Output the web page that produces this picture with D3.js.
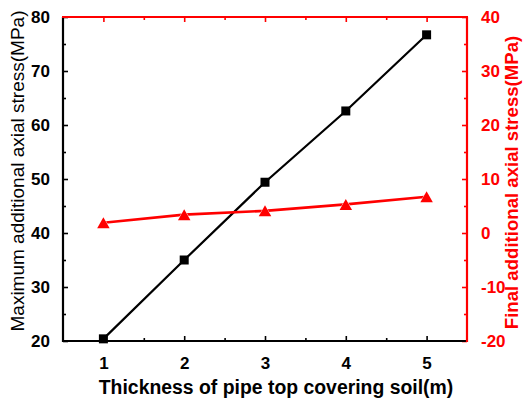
<!DOCTYPE html>
<html>
<head>
<meta charset="utf-8">
<script src="https://cdn.jsdelivr.net/npm/d3@7"></script>
<style>
  html, body { margin: 0; padding: 0; background: #fff; }
  svg { display: block; font-family: Arial, "Liberation Sans", sans-serif; }
</style>
</head>
<body>
<svg id="chart" width="523" height="402"></svg>
<script>
// Cover-soil thickness (m) and the two stress series
const thickness = [1, 2, 3, 4, 5];
const maxStress = [20.4, 35.0, 49.4, 62.6, 76.7];   // left axis, MPa
const finalStress = [1.9, 3.4, 4.1, 5.3, 6.7];       // right axis, MPa

const xTicks = [1, 2, 3, 4, 5];
const leftTicks = [20, 30, 40, 50, 60, 70, 80];
const rightTicks = [-20, -10, 0, 10, 20, 30, 40];

const W = 523, H = 402;
const m = { left: 63, right: 56, top: 17, bottom: 61 };
const RED = "#ff0000";

const svg = d3.select("#chart");

const x = d3.scaleLinear().domain([0.5, 5.5]).range([m.left, W - m.right]);
const yL = d3.scaleLinear().domain([20, 80]).range([H - m.bottom, m.top]);
const yR = d3.scaleLinear().domain([-20, 40]).range([H - m.bottom, m.top]);

const x0 = m.left, x1 = W - m.right, y0 = m.top, y1 = H - m.bottom;
const plain = d => String(d);   // ASCII hyphen for negatives

function styleAxis(g, color, size) {
  g.select(".domain").remove();
  g.selectAll(".tick line").attr("stroke", color).attr("stroke-width", 1.6);
  g.selectAll(".tick text")
    .attr("fill", color)
    .attr("font-size", size)
    .attr("font-weight", "bold");
}

// minor tick positions (halfway between majors)
const xMinor = d3.range(1.5, 5.5, 1);
const lMinor = d3.range(25, 80, 10);
const rMinor = d3.range(-15, 40, 10);

// bottom axis (black, ticks inward)
svg.append("g")
  .attr("transform", `translate(0,${y1})`)
  .call(d3.axisBottom(x).tickValues(xMinor).tickSize(-3).tickFormat(""))
  .call(g => styleAxis(g, "#000", 17));
svg.append("g")
  .attr("transform", `translate(0,${y1})`)
  .call(d3.axisBottom(x).tickValues(xTicks).tickSize(-5).tickPadding(16).tickFormat(plain))
  .call(g => styleAxis(g, "#000", 17));

// left axis (black, ticks inward)
svg.append("g")
  .attr("transform", `translate(${x0},0)`)
  .call(d3.axisLeft(yL).tickValues(lMinor).tickSize(-3).tickFormat(""))
  .call(g => styleAxis(g, "#000", 17));
svg.append("g")
  .attr("transform", `translate(${x0},0)`)
  .call(d3.axisLeft(yL).tickValues(leftTicks).tickSize(-5).tickPadding(13).tickFormat(plain))
  .call(g => styleAxis(g, "#000", 17));

// top axis (red, ticks inward, no labels)
svg.append("g")
  .attr("transform", `translate(0,${y0})`)
  .call(d3.axisTop(x).tickValues(xMinor).tickSize(-3).tickFormat(""))
  .call(g => styleAxis(g, RED, 17));
svg.append("g")
  .attr("transform", `translate(0,${y0})`)
  .call(d3.axisTop(x).tickValues(xTicks).tickSize(-5).tickFormat(""))
  .call(g => styleAxis(g, RED, 17));

// right axis (red, ticks inward)
svg.append("g")
  .attr("transform", `translate(${x1},0)`)
  .call(d3.axisRight(yR).tickValues(rMinor).tickSize(-3).tickFormat(""))
  .call(g => styleAxis(g, RED, 17));
svg.append("g")
  .attr("transform", `translate(${x1},0)`)
  .call(d3.axisRight(yR).tickValues(rightTicks).tickSize(-5).tickPadding(14).tickFormat(plain))
  .call(g => styleAxis(g, RED, 17));

// frame lines: black bottom/left, red top/right drawn last
svg.append("line").attr("x1", x0 - 1).attr("x2", x1).attr("y1", y1).attr("y2", y1)
  .attr("stroke", "#000").attr("stroke-width", 2.2);
svg.append("line").attr("x1", x0).attr("x2", x0).attr("y1", y0).attr("y2", y1 + 1)
  .attr("stroke", "#000").attr("stroke-width", 2.2);
svg.append("line").attr("x1", x0 - 1).attr("x2", x1 + 1).attr("y1", y0).attr("y2", y0)
  .attr("stroke", RED).attr("stroke-width", 2.2);
svg.append("line").attr("x1", x1).attr("x2", x1).attr("y1", y0).attr("y2", y1 + 1)
  .attr("stroke", RED).attr("stroke-width", 2.2);

// series lines
const lineL = d3.line().x((d, i) => x(thickness[i])).y(d => yL(d));
const lineR = d3.line().x((d, i) => x(thickness[i])).y(d => yR(d));

svg.append("path").datum(maxStress).attr("d", lineL)
  .attr("fill", "none").attr("stroke", "#000").attr("stroke-width", 2.2);
svg.append("path").datum(finalStress).attr("d", lineR)
  .attr("fill", "none").attr("stroke", RED).attr("stroke-width", 2.6);

// square markers
const sq = 9;
svg.append("g").selectAll("rect").data(maxStress).join("rect")
  .attr("x", (d, i) => x(thickness[i]) - sq / 2)
  .attr("y", d => yL(d) - sq / 2)
  .attr("width", sq).attr("height", sq)
  .attr("fill", "#000");

// triangle markers, centred on their bounding box
const tw = 12.5, th = 11;
const tri = `M0,${-th / 2}L${tw / 2},${th / 2}L${-tw / 2},${th / 2}Z`;
svg.append("g").selectAll("path").data(finalStress).join("path")
  .attr("transform", (d, i) => `translate(${x(thickness[i])},${yR(d)})`)
  .attr("d", tri)
  .attr("fill", RED)
  .attr("stroke", "#fff").attr("stroke-width", 0.8).attr("paint-order", "stroke");

// axis titles
svg.append("text")
  .attr("transform", `translate(24,${(9 + 333) / 2}) rotate(-90)`)
  .attr("text-anchor", "middle")
  .attr("font-size", 19)
  .attr("fill", "#000")
  .text("Maximum additional axial stress(MPa)");

svg.append("text")
  .attr("transform", `translate(518,${(32 + 333) / 2}) rotate(-90)`)
  .attr("text-anchor", "middle")
  .attr("font-size", 18.6)
  .attr("font-weight", "bold")
  .attr("fill", RED)
  .text("Final additional axial stress(MPa)");

svg.append("text")
  .attr("x", (98 + 454) / 2)
  .attr("y", 394)
  .attr("text-anchor", "middle")
  .attr("font-size", 19.4)
  .attr("font-weight", "bold")
  .attr("fill", "#000")
  .text("Thickness of pipe top covering soil(m)");
</script>
</body>
</html>
